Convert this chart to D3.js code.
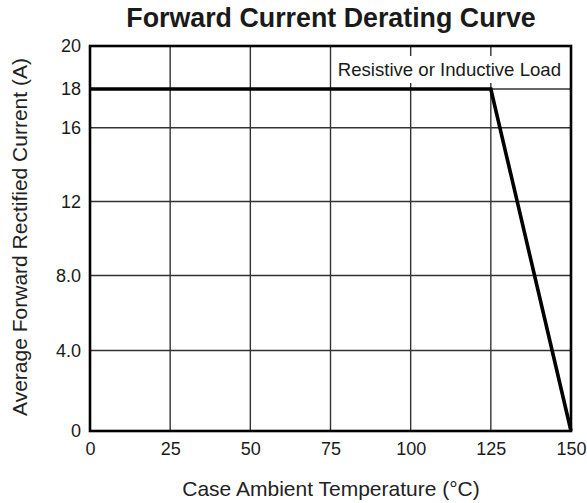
<!DOCTYPE html>
<html><head><meta charset="utf-8">
<script src="https://cdn.jsdelivr.net/npm/d3@7"></script>
<style>body{margin:0;background:#fff}text{font-family:"Liberation Sans",Arial,sans-serif}</style>
</head><body><svg id="c" width="587" height="503"></svg>
<script>
const xTicks = [0, 25, 50, 75, 100, 125, 150];
const yTicks = [0, 4, 8, 12, 16, 18, 20];
const yTickLabels = ["0", "4.0", "8.0", "12", "16", "18", "20"];
const curveTemp = [0, 125, 150];
const curveCurrent = [18, 18, 0];

const svg = d3.select("#c");
const FONT = '"Liberation Sans",Arial,sans-serif';
const x = d3.scaleLinear().domain([0, 150]).range([90, 571]);
// the printed grid is slightly irregular: piecewise-linear scale through the gridlines
const y = d3.scaleLinear().domain(yTicks).range([431, 350.5, 275.5, 201.5, 127.7, 89, 46]);

// grid
const g = svg.append("g");
g.selectAll(".vx").data(xTicks.slice(1, -1)).join("line")
  .attr("x1", d => x(d)).attr("x2", d => x(d)).attr("y1", y(0)).attr("y2", y(20))
  .attr("stroke", "#333").attr("stroke-width", 1.4);
g.selectAll(".hy").data(yTicks.slice(1, -1)).join("line")
  .attr("y1", d => y(d)).attr("y2", d => y(d)).attr("x1", x(0)).attr("x2", x(150))
  .attr("stroke", "#333").attr("stroke-width", 1.4);

// label
svg.append("rect").attr("x", 334).attr("y", 56).attr("width", 231).attr("height", 27).attr("fill", "#fff");
svg.append("text").attr("x", 561).attr("y", 76).attr("text-anchor", "end")
  .attr("font-size", 18.6).attr("fill", "#1a1a1a").text("Resistive or Inductive Load");

// frame
svg.append("rect").attr("x", x(0)).attr("y", y(20)).attr("width", x(150) - x(0)).attr("height", y(0) - y(20))
  .attr("fill", "none").attr("stroke", "#000").attr("stroke-width", 2.6);

// curve
const line = d3.line().x(d => x(d[0])).y(d => y(d[1]));
svg.append("path").datum(curveTemp.map((t, i) => [t, curveCurrent[i]]))
  .attr("d", line).attr("fill", "none").attr("stroke", "#000").attr("stroke-width", 3.6);

// axes labels
const xa = d3.axisBottom(x).tickValues(xTicks).tickSize(0).tickPadding(11);
svg.append("g").attr("transform", `translate(0,${y(0)})`).call(xa)
  .call(s => s.select(".domain").remove())
  .selectAll("text").attr("font-size", 18).attr("fill", "#1a1a1a").style("font-family", FONT);
const ya = d3.axisLeft(y).tickValues(yTicks).tickFormat((d, i) => yTickLabels[i]).tickSize(0).tickPadding(9);
svg.append("g").attr("transform", `translate(${x(0)},0)`).call(ya)
  .call(s => s.select(".domain").remove())
  .selectAll("text").attr("font-size", 18).attr("fill", "#1a1a1a").style("font-family", FONT);

svg.append("text").attr("x", 331).attr("y", 27).attr("text-anchor", "middle")
  .attr("font-size", 26.8).attr("font-weight", "bold").attr("fill", "#1a1a1a").text("Forward Current Derating Curve");
svg.append("text").attr("x", 331).attr("y", 496).attr("text-anchor", "middle")
  .attr("font-size", 21).attr("fill", "#222").text("Case Ambient Temperature (°C)");
svg.append("text").attr("transform", `translate(27,237) rotate(-90)`).attr("text-anchor", "middle")
  .attr("font-size", 21).attr("fill", "#222").text("Average Forward Rectified Current (A)");
</script></body></html>
